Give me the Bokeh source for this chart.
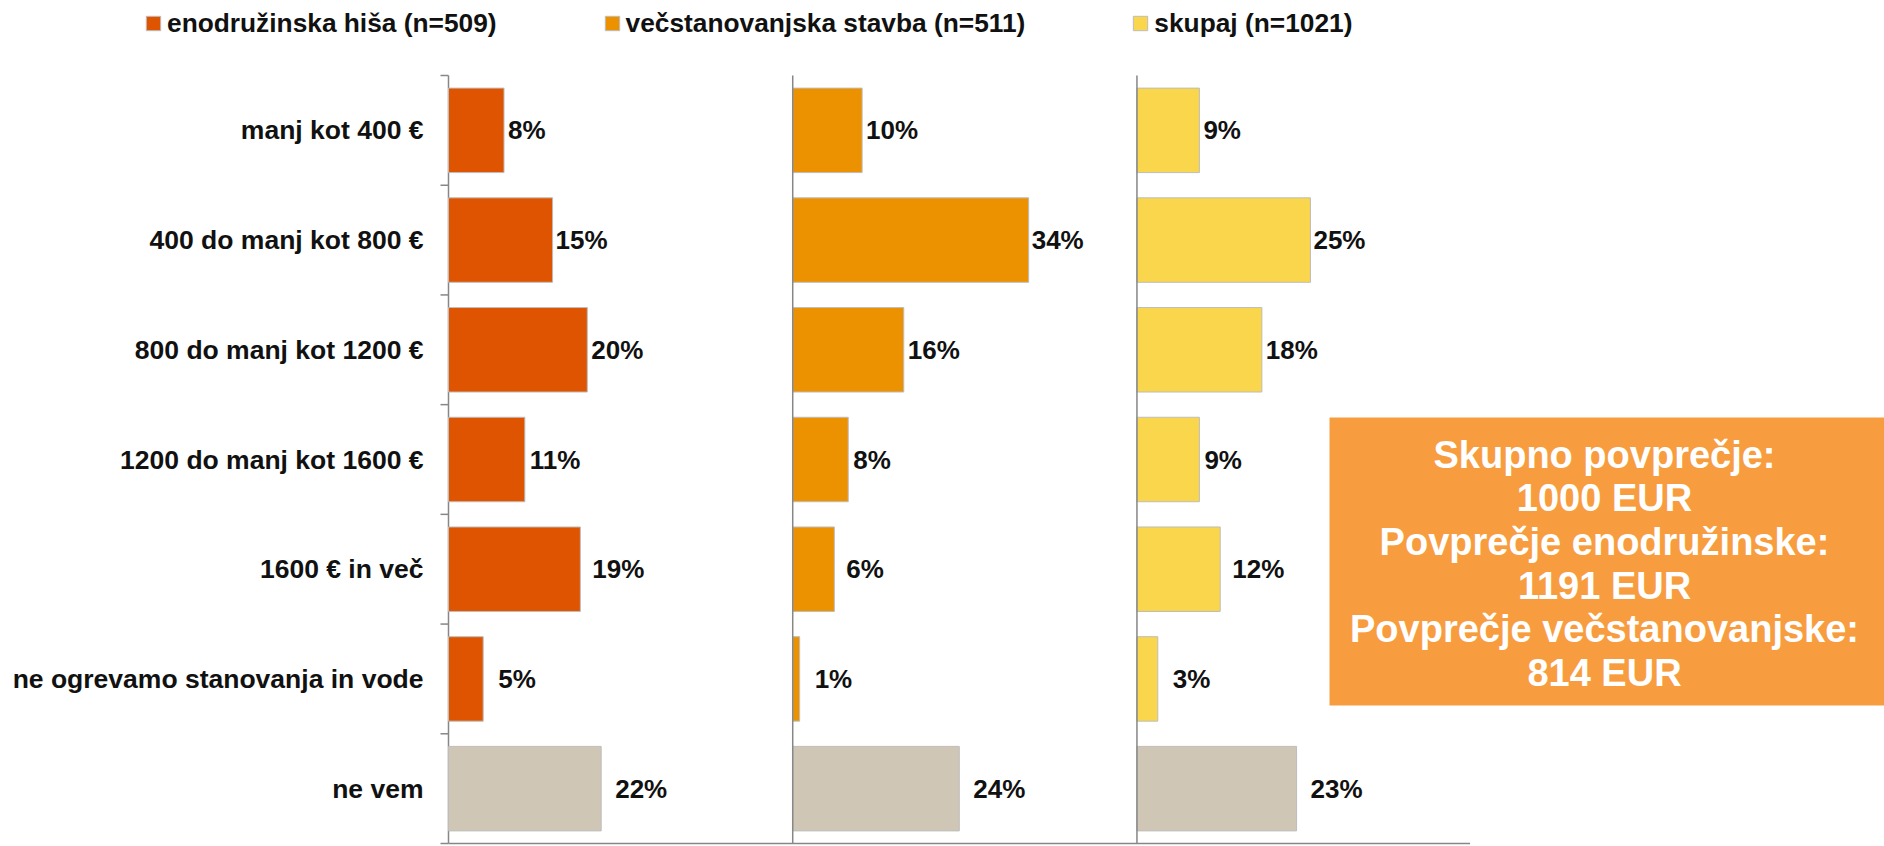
import numpy as np
from bokeh.plotting import figure
from bokeh.models import Range1d, ColumnDataSource, Legend, LegendItem
from bokeh.core.properties import value
from bokeh.embed import file_html
from bokeh.resources import INLINE

# ---------------- data ----------------
categories = [
    "manj kot 400 €",
    "400 do manj kot 800 €",
    "800 do manj kot 1200 €",
    "1200 do manj kot 1600 €",
    "1600 € in več",
    "ne ogrevamo stanovanja in vode",
    "ne vem",
]
series_names = [
    "enodružinska hiša (n=509)",
    "večstanovanjska stavba (n=511)",
    "skupaj (n=1021)",
]
enodruzinska = [8, 15, 20, 11, 19, 5, 22]
vecstanovanjska = [10, 34, 16, 8, 6, 1, 24]
skupaj = [9, 25, 18, 9, 12, 3, 23]
summary_lines = [
    "Skupno povprečje:",
    "1000 EUR",
    "Povprečje enodružinske:",
    "1191 EUR",
    "Povprečje večstanovanjske:",
    "814 EUR",
]

# ---------------- style / layout ----------------
W, H = 1884, 846
AXIS_X = 448                 # pixel position of the first value axis
TOP_PX = 75                  # pixel position of the first category boundary
BOTTOM_PX = 843              # pixel position of the bottom axis line
N = len(categories)
ROW_PX = (BOTTOM_PX - TOP_PX) / N
PX_PER_PCT = 6.94
PANEL_STEP = 49.6
AXIS_END = 147.2
TICK_PX = 8
PANEL_COLORS = ["#DF5400", "#EC9200", "#F9D64C"]
GRAY = "#CFC6B6"
AXIS_COLOR = "#878787"
BOX_COLOR = "#F89D3F"
TEXT_COLOR = "#111111"
FONT = "Liberation Sans"
LABEL_GAP = [4, 3, 4, 5, 12, 15, 14]   # px gap between bar end and its label, per row

Y_TOP = -0.5 - TOP_PX / ROW_PX
Y_BOTTOM = N - 0.5 + (H - BOTTOM_PX) / ROW_PX


def px_x(page_x):
    return (page_x - AXIS_X) / PX_PER_PCT


def px_y(page_y):
    return Y_TOP + page_y / ROW_PX


p = figure(
    width=W, height=H,
    x_range=Range1d(px_x(0), px_x(W)),
    y_range=Range1d(Y_BOTTOM, Y_TOP),
    output_backend="svg", toolbar_location=None, title_location=None,
    min_border_left=0, min_border_right=0, min_border_top=0, min_border_bottom=0,
)
p.outline_line_color = None
p.grid.visible = False
p.axis.visible = False
p.background_fill_color = "white"
p.border_fill_color = "white"

rows = np.arange(N)
bounds = np.arange(N + 1) - 0.5

# category axis (line, outward ticks at category boundaries, labels)
p.segment(x0=[0], x1=[0], y0=[bounds[0]], y1=[bounds[-1]],
          line_color=AXIS_COLOR, line_width=1.5)
p.segment(x0=np.full(N + 1, -TICK_PX / PX_PER_PCT), x1=np.zeros(N + 1),
          y0=bounds, y1=bounds, line_color=AXIS_COLOR, line_width=1.5)
p.text(x=np.zeros(N), y=rows, text=categories, x_offset=-(TICK_PX + 17),
       text_align="right", text_baseline="middle", text_font=value(FONT),
       text_font_style="bold", text_font_size="26.5px", text_color=TEXT_COLOR)

legend_items = []
for k, (vals, color, name) in enumerate(zip([enodruzinska, vecstanovanjska, skupaj],
                                            PANEL_COLORS, series_names)):
    offset = k * PANEL_STEP
    vals = np.array(vals, dtype=float)
    src = ColumnDataSource(dict(
        y=rows,
        left=np.full(N, offset),
        right=offset + vals,
        color=[color] * (N - 1) + [GRAY],
        label=[f"{int(v)}%" for v in vals],
        dx=LABEL_GAP,
    ))
    r = p.hbar(y="y", left="left", right="right", height=0.77, fill_color="color",
               line_color="#BDBDBD", line_width=1, source=src)
    p.text(x="right", y="y", text="label", x_offset="dx", text_baseline="middle",
           text_align="left", text_font=value(FONT), text_font_style="bold",
           text_font_size="26px", text_color=TEXT_COLOR, source=src)
    if k > 0:
        p.segment(x0=[offset], x1=[offset], y0=[bounds[0]], y1=[bounds[-1]],
                  line_color=AXIS_COLOR, line_width=1.5)
    legend_items.append(LegendItem(label=name, renderers=[r], index=0))

# bottom axis line
p.segment(x0=[0], x1=[AXIS_END], y0=[bounds[-1]], y1=[bounds[-1]],
          line_color=AXIS_COLOR, line_width=1.5)

# summary box
p.quad(left=[px_x(1329)], right=[px_x(W + 20)], top=[px_y(417)], bottom=[px_y(705)],
       fill_color=BOX_COLOR, line_color=None)
p.text(x=[px_x(1604)] * len(summary_lines),
       y=[px_y(454 + i * 43.7) for i in range(len(summary_lines))],
       text=summary_lines, text_align="center", text_baseline="middle",
       text_font=value(FONT), text_font_style="bold", text_font_size="38px",
       text_color="white")

legend = Legend(
    items=legend_items, orientation="horizontal",
    location=(144, H - 40),
    spacing=106, glyph_width=18, glyph_height=18, label_standoff=5,
    label_height=34, padding=0, margin=0,
    border_line_color=None, background_fill_alpha=0,
    label_text_font=FONT, label_text_font_style="bold",
    label_text_font_size="26.3px", label_text_color=TEXT_COLOR,
)
p.add_layout(legend)

open("out.html", "w").write(file_html(p, INLINE))
